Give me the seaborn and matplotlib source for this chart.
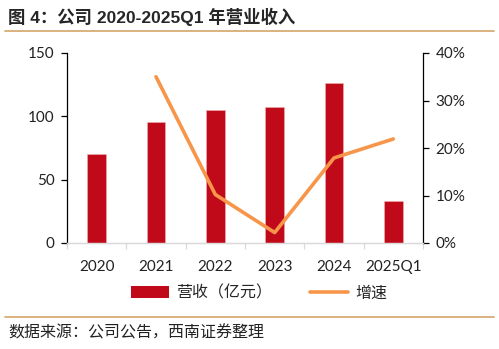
import matplotlib
matplotlib.use("Agg")
import matplotlib.pyplot as plt
from matplotlib.lines import Line2D
from matplotlib.patches import Patch
import numpy as np
import pandas as pd
import seaborn as sns

categories = ["2020", "2021", "2022", "2023", "2024", "2025Q1"]
revenue = [70.3, 95.3, 105.0, 107.4, 126.6, 32.9]
growth = [np.nan, 35.0, 10.2, 2.2, 17.9, 21.9]  # percent
left_ticks = [0, 50, 100, 150]
right_ticks = [0, 10, 20, 30, 40]

title = "图 4：公司 2020-2025Q1 年营业收入"
source = "数据来源：公司公告，西南证券整理"
bar_label = "营收（亿元）"
line_label = "增速"

sns.set_theme(style="white")
plt.rcParams["font.family"] = ["Lato", "Noto Sans CJK SC", "DejaVu Sans"]

BAR_C = "#C00A1A"
LINE_C = "#F7964A"
SEP_C = "#D6A66A"
TICK_FS = 11

df = pd.DataFrame({"cat": categories, "rev": revenue,
                   "pos": np.arange(len(categories)), "g": growth})

fig = plt.figure(figsize=(4.99, 3.49), dpi=100)
ax = fig.add_axes([67/499, 1-243/349, (423-67)/499, (243-53)/349])

sns.barplot(data=df, x="cat", y="rev", color=BAR_C, width=0.31,
            saturation=1, edgecolor="#F0B0B0", linewidth=0.4, ax=ax)
ax.set_ylim(0, 150)
ax.set_yticks(left_ticks)
ax.set_xlim(-0.5, len(categories) - 0.5)
ax.set_xlabel("")
ax.set_ylabel("")

ax2 = ax.twinx()
sns.lineplot(data=df, x="pos", y="g", color=LINE_C, linewidth=2.6, ax=ax2)
ax2.set_ylim(0, 40)
ax2.set_yticks(right_ticks)
ax2.set_yticklabels([f"{t}%" for t in right_ticks])
ax2.set_xlim(-0.5, len(categories) - 0.5)
ax2.set_xlabel("")
ax2.set_ylabel("")

for a in (ax, ax2):
    a.spines["top"].set_visible(False)
    a.spines["left"].set_color("black")
    a.spines["right"].set_color("black")
    a.spines["left"].set_linewidth(0.9)
    a.spines["right"].set_linewidth(0.9)
    a.spines["bottom"].set_color("#D9D9D9")
    a.spines["bottom"].set_linewidth(0.9)
    a.grid(False)
ax.spines["right"].set_visible(False)
ax2.spines["left"].set_visible(False)

ax.tick_params(axis="y", which="major", direction="out", length=4, width=0.9,
               color="black", labelsize=TICK_FS, pad=5, left=True)
ax2.tick_params(axis="y", which="major", direction="out", length=4, width=0.9,
                color="black", labelsize=TICK_FS, pad=5, right=True)
ax.tick_params(axis="x", which="major", length=0, labelsize=TICK_FS, pad=12)
ax.set_xticks(np.arange(-0.5, len(categories)), minor=True)
ax.tick_params(axis="x", which="minor", direction="out", length=4, width=0.9,
               color="#D9D9D9", bottom=True)
ax2.tick_params(axis="x", bottom=False, labelbottom=False)

for lbl in ax.get_xticklabels() + ax.get_yticklabels() + ax2.get_yticklabels():
    lbl.set_color("#222222")

handles = [Patch(facecolor=BAR_C, edgecolor="none", label=bar_label),
           Line2D([0], [0], color=LINE_C, linewidth=2.6, label=line_label)]
fig.legend(handles=handles, loc="center", bbox_to_anchor=(259/499, 1-293/349),
           ncol=2, frameon=False, handlelength=2.4,
           handleheight=0.7, columnspacing=2.4, handletextpad=0.4,
           prop={"family": ["Noto Sans CJK SC"], "size": 11.5})

fig.text(8/499, 1-17/349, title, ha="left", va="center", fontsize=12.5,
         fontweight="bold", family=["Liberation Sans", "Noto Sans CJK SC"])
fig.add_artist(Line2D([5/499, 494/499], [1-31/349, 1-31/349],
                      color=SEP_C, linewidth=1.2, transform=fig.transFigure))
fig.add_artist(Line2D([5/499, 494/499], [1-317/349, 1-317/349],
                      color=SEP_C, linewidth=1.2, transform=fig.transFigure))
fig.text(8/499, 1-333/349, source, ha="left", va="center", fontsize=11.5,
         family=["Noto Sans CJK SC"], color="#222222")

fig.savefig("out.png", dpi=100)
